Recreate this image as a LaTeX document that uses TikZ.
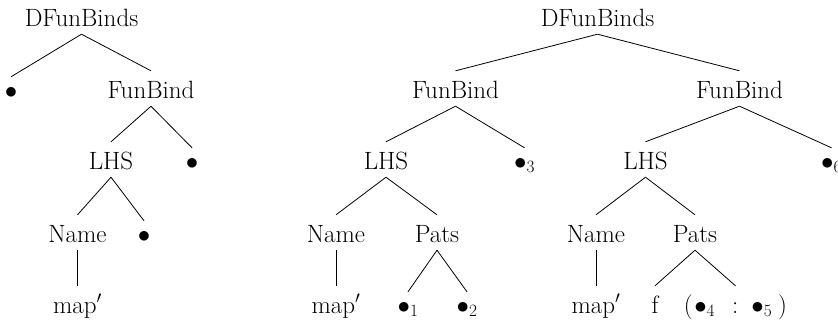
\documentclass[tikz,border=0pt]{standalone}
\begin{document}
\begin{tikzpicture}[x=1pt,y=-1pt,
  lbl/.style={inner sep=0pt, text height=27pt, text depth=8pt, anchor=base,
              font=\fontsize{25}{29}\selectfont},
  dot/.style={lbl, text height=21pt},
  edge/.style={line width=0.8pt}]
\useasboundingbox (0,0) rectangle (838,322);
% left tree
\node[lbl] (a0) at (81.5,26) {DFunBinds};
\node[dot] (a1) at (11,98) {$\bullet$};
\node[lbl] (a2) at (151,98) {FunBind};
\node[lbl] (a3) at (111,169) {LHS};
\node[dot] (a4) at (192,169) {$\bullet$};
\node[lbl] (a5) at (77.5,242) {Name};
\node[dot] (a6) at (144,242) {$\bullet$};
\node[lbl] (a7) at (77.5,313) {map$'$};
\foreach \p/\c in {a0/a1,a0/a2,a2/a3,a2/a4,a3/a5,a3/a6,a5/a7}
  \draw[edge] (\p.south) -- (\c.north);
% right tree
\node[lbl] (b0) at (597.5,26) {DFunBinds};
\node[lbl] (b1) at (455.5,98) {FunBind};
\node[lbl] (b2) at (739.5,98) {FunBind};
\node[lbl] (b3) at (386,169) {LHS};
\node[dot] (b4) at (524.5,169) {$\bullet_3$};
\node[lbl] (b5) at (645.5,169) {LHS};
\node[dot] (b6) at (831.5,169) {$\bullet_6$};
\node[lbl] (b7) at (336,242) {Name};
\node[lbl] (b8) at (437,242) {Pats};
\node[lbl] (b9) at (596,242) {Name};
\node[lbl] (b10) at (695,242) {Pats};
\node[lbl] (b11) at (336,313) {map$'$};
\node[dot] (b12) at (408,313) {$\bullet_1$};
\node[dot] (b13) at (467,313) {$\bullet_2$};
\node[lbl] (b14) at (596,313) {map$'$};
\node[lbl] (b15) at (655,313) {f};
\node[lbl] (b16) at (735.5,313) {(\hspace{1.5pt}$\bullet_4$\hspace{17pt}:\hspace{13pt}$\bullet_5$\hspace{6pt})};
\foreach \p/\c in {b0/b1,b0/b2,b1/b3,b1/b4,b2/b5,b2/b6,b3/b7,b3/b8,b5/b9,b5/b10,
                   b7/b11,b8/b12,b8/b13,b9/b14,b10/b15,b10/b16}
  \draw[edge] (\p.south) -- (\c.north);
\end{tikzpicture}
\end{document}
